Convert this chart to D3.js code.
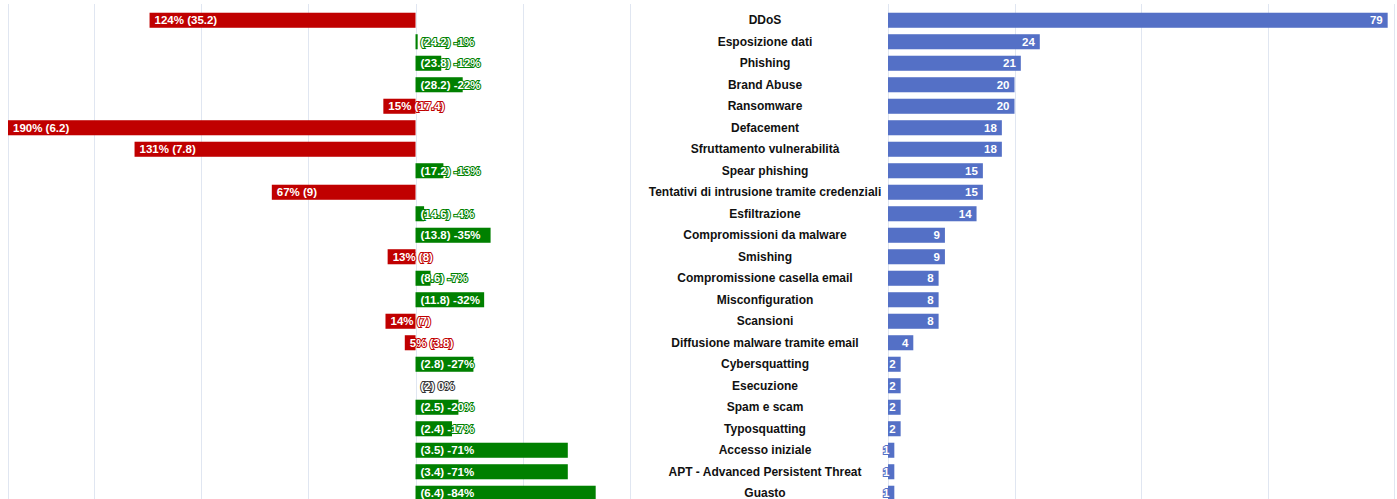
<!DOCTYPE html>
<html>
<head>
<meta charset="utf-8">
<script src="https://cdn.jsdelivr.net/npm/d3@7"></script>
<style>
  body { margin: 0; background: #fff; }
  svg { display: block; font-family: "Liberation Sans", Arial, sans-serif; }
</style>
</head>
<body>
<div id="chart"></div>
<script>
/* global d3 */

// Categories, top to bottom
var categories = [
  "DDoS", "Esposizione dati", "Phishing", "Brand Abuse", "Ransomware",
  "Defacement", "Sfruttamento vulnerabilità", "Spear phishing",
  "Tentativi di intrusione tramite credenziali", "Esfiltrazione",
  "Compromissioni da malware", "Smishing", "Compromissione casella email",
  "Misconfiguration", "Scansioni", "Diffusione malware tramite email",
  "Cybersquatting", "Esecuzione", "Spam e scam", "Typosquatting",
  "Accesso iniziale", "APT - Advanced Persistent Threat", "Guasto"
];

// Current counts (right panel)
var counts = [ 79, 24, 21, 20, 20, 18, 18, 15, 15, 14, 9, 9, 8, 8, 8, 4, 2, 2, 2, 2, 1, 1, 1 ];

// Previous period average (shown in brackets)
var previous = [ "35.2", "24.2", "23.8", "28.2", "17.4", "6.2", "7.8", "17.2", "9", "14.6",
  "13.8", "8", "8.6", "11.8", "7", "3.8", "2.8", "2", "2.5", "2.4", "3.5", "3.4", "6.4" ];

// Percentage change vs previous period (left panel)
var changes = [ 124, -1, -12, -22, 15, 190, 131, -13, 67, -4, -35, 13, -7, -32, 14, 5,
  -27, 0, -20, -17, -71, -71, -84 ];

var width = 1397,
  height = 499;

var RED = "#c00000", GREEN = "#008000", BLUE = "#5470c6", GRID = "#e0e6f1";

var svg = d3.select( "#chart" ).append( "svg" )
  .attr( "width", width )
  .attr( "height", height );

var rows = categories.map( function( c, i ) {
  return { name: c, count: counts[ i ], prev: previous[ i ], change: changes[ i ] };
} );

var y = d3.scaleBand()
  .domain( categories )
  .range( [ 9.5, 504 ] )
  .paddingInner( 0.3 )
  .paddingOuter( 0.15 );

// Left panel: change in %, positive grows to the left
var xL = d3.scaleLinear().domain( [ 190, -100 ] ).range( [ 8, 630 ] );

// Right panel: counts
var xR = d3.scaleLinear().domain( [ 0, 80 ] ).range( [ 888, 1394 ] );

// Grid lines
svg.append( "g" ).selectAll( "line" )
  .data( [ 190, 150, 100, 50, 0, -50, -100 ] )
  .enter().append( "line" )
    .attr( "x1", function( d ) { return Math.round( xL( d ) ) + 0.5; } )
    .attr( "x2", function( d ) { return Math.round( xL( d ) ) + 0.5; } )
    .attr( "y1", 4 )
    .attr( "y2", height )
    .attr( "stroke", GRID );

svg.append( "g" ).selectAll( "line" )
  .data( [ 0, 20, 40, 60, 80 ] )
  .enter().append( "line" )
    .attr( "x1", function( d ) { return Math.round( xR( d ) ) + 0.5; } )
    .attr( "x2", function( d ) { return Math.round( xR( d ) ) + 0.5; } )
    .attr( "y1", 4 )
    .attr( "y2", height )
    .attr( "stroke", GRID );

function changeColor( d ) {
  if ( d.change > 0 ) return RED;
  if ( d.change < 0 ) return GREEN;
  return "#333";
}

function changeText( d ) {
  if ( d.change > 0 ) return d.change + "% (" + d.prev + ")";
  return "(" + d.prev + ") " + d.change + "%";
}

// Left bars
var left = svg.append( "g" );

left.selectAll( "rect" )
  .data( rows )
  .enter().append( "rect" )
    .attr( "x", function( d ) { return Math.min( xL( d.change ), xL( 0 ) ); } )
    .attr( "y", function( d ) { return y( d.name ); } )
    .attr( "width", function( d ) { return Math.abs( xL( d.change ) - xL( 0 ) ); } )
    .attr( "height", y.bandwidth() )
    .attr( "fill", changeColor );

left.selectAll( "text" )
  .data( rows )
  .enter().append( "text" )
    .attr( "x", function( d ) { return Math.min( xL( d.change ), xL( 0 ) ) + 5; } )
    .attr( "y", function( d ) { return y( d.name ) + y.bandwidth() / 2; } )
    .attr( "dy", "0.35em" )
    .attr( "font-size", 11.5 )
    .attr( "font-weight", "bold" )
    .attr( "fill", "#fff" )
    .attr( "stroke", changeColor )
    .attr( "stroke-width", 2 )
    .attr( "paint-order", "stroke" )
    .text( changeText );

// Category labels in the middle
svg.append( "g" ).selectAll( "text" )
  .data( rows )
  .enter().append( "text" )
    .attr( "x", 765 )
    .attr( "y", function( d ) { return y( d.name ) + y.bandwidth() / 2; } )
    .attr( "dy", "0.35em" )
    .attr( "text-anchor", "middle" )
    .attr( "font-size", 12 )
    .attr( "font-weight", "bold" )
    .attr( "fill", "#111" )
    .text( function( d ) { return d.name; } );

// Right bars
var right = svg.append( "g" );

right.selectAll( "rect" )
  .data( rows )
  .enter().append( "rect" )
    .attr( "x", xR( 0 ) )
    .attr( "y", function( d ) { return y( d.name ); } )
    .attr( "width", function( d ) { return xR( d.count ) - xR( 0 ); } )
    .attr( "height", y.bandwidth() )
    .attr( "fill", BLUE );

right.selectAll( "text" )
  .data( rows )
  .enter().append( "text" )
    .attr( "x", function( d ) { return xR( d.count ) - 5; } )
    .attr( "y", function( d ) { return y( d.name ) + y.bandwidth() / 2; } )
    .attr( "dy", "0.35em" )
    .attr( "text-anchor", "end" )
    .attr( "font-size", 11.5 )
    .attr( "font-weight", "bold" )
    .attr( "fill", "#fff" )
    .attr( "stroke", BLUE )
    .attr( "stroke-width", 2 )
    .attr( "paint-order", "stroke" )
    .text( function( d ) { return d.count; } );
</script>
</body>
</html>
